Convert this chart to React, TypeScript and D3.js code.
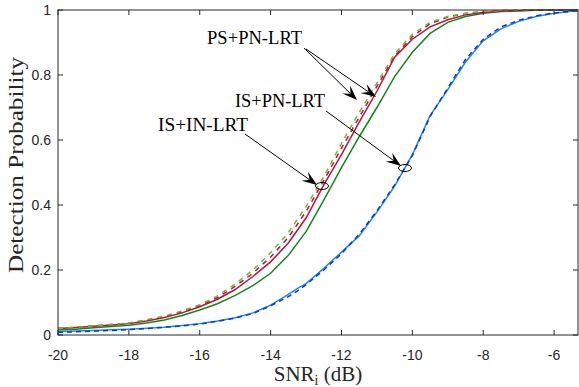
import React from "react";
import * as d3 from "d3";

const snr = [-20, -19.5, -19, -18.5, -18, -17.5, -17, -16.5, -16, -15.5, -15, -14.5, -14, -13.5, -13, -12.5, -12, -11.5, -11, -10.5, -10, -9.5, -9, -8.5, -8, -7.5, -7, -6.5, -6, -5.5, -5];
const snrBlue = [-20, -19.5, -19, -18.5, -18, -17.5, -17, -16.5, -16, -15.5, -15, -14.5, -14, -13.5, -13.25, -13, -12.5, -12, -11.5, -11, -10.5, -10, -9.5, -9, -8.5, -8, -7.5, -7, -6.5, -6, -5.5, -5];

const greenDashed = [0.020, 0.024, 0.028, 0.032, 0.037, 0.047, 0.058, 0.074, 0.093, 0.120, 0.157, 0.200, 0.253, 0.315, 0.395, 0.487, 0.590, 0.685, 0.775, 0.865, 0.925, 0.962, 0.980, 0.990, 0.995, 0.998, 0.999, 1, 1, 1, 1];
const redDashed = [0.020, 0.024, 0.028, 0.032, 0.036, 0.045, 0.056, 0.071, 0.090, 0.115, 0.150, 0.190, 0.240, 0.300, 0.380, 0.475, 0.575, 0.670, 0.765, 0.858, 0.918, 0.958, 0.978, 0.989, 0.995, 0.998, 0.999, 1, 1, 1, 1];
const redSolid = [0.020, 0.023, 0.027, 0.031, 0.035, 0.043, 0.054, 0.068, 0.087, 0.110, 0.140, 0.180, 0.225, 0.283, 0.360, 0.462, 0.555, 0.655, 0.750, 0.855, 0.910, 0.948, 0.970, 0.985, 0.992, 0.996, 0.998, 1, 1, 1, 1];
const greenSolid = [0.015, 0.018, 0.022, 0.026, 0.030, 0.037, 0.046, 0.060, 0.077, 0.096, 0.122, 0.152, 0.190, 0.245, 0.318, 0.415, 0.515, 0.610, 0.700, 0.795, 0.870, 0.928, 0.962, 0.980, 0.990, 0.995, 0.998, 0.999, 1, 1, 1];
const lightBlue = [0.010, 0.012, 0.014, 0.016, 0.018, 0.021, 0.024, 0.029, 0.035, 0.043, 0.053, 0.068, 0.092, 0.125, 0.143, 0.158, 0.205, 0.255, 0.305, 0.378, 0.458, 0.555, 0.675, 0.755, 0.840, 0.905, 0.942, 0.965, 0.980, 0.990, 0.996, 1.0];
const blueDashed = [0.008, 0.010, 0.012, 0.014, 0.017, 0.020, 0.024, 0.028, 0.034, 0.042, 0.052, 0.066, 0.090, 0.118, 0.135, 0.155, 0.200, 0.250, 0.310, 0.382, 0.462, 0.552, 0.672, 0.760, 0.848, 0.910, 0.948, 0.968, 0.982, 0.991, 0.996, 1.0];

const xTicks = [-20, -18, -16, -14, -12, -10, -8, -6];
const yTicks = [0, 0.2, 0.4, 0.6, 0.8, 1];

const series = [
  { name: "lightBlue", xs: snrBlue, values: lightBlue, color: "#1a8fe0", dash: "" },
  { name: "blueDashed", xs: snrBlue, values: blueDashed, color: "#1030e8", dash: "5,4" },
  { name: "greenSolid", xs: snr, values: greenSolid, color: "#12861a", dash: "" },
  { name: "redSolid", xs: snr, values: redSolid, color: "#b0173a", dash: "" },
  { name: "redDashed", xs: snr, values: redDashed, color: "#b0173a", dash: "5,5" },
  { name: "greenDashed", xs: snr, values: greenDashed, color: "#7fae3a", dash: "5,5" },
];

const W = 579, H = 387;
const L = 58, R = 578, T = 10, B = 335;
const axisColor = "#262626";

function Arrow({ x1, y1, x2, y2 }: { x1: number; y1: number; x2: number; y2: number }) {
  const ang = Math.atan2(y2 - y1, x2 - x1);
  const len = 15, half = 5.5, notch = 9;
  const ux = Math.cos(ang), uy = Math.sin(ang);
  const px = -uy, py = ux;
  const bx = x2 - ux * len, by = y2 - uy * len;
  const nx = x2 - ux * notch, ny = y2 - uy * notch;
  const pts = [
    [x2, y2],
    [bx + px * half, by + py * half],
    [nx, ny],
    [bx - px * half, by - py * half],
  ];
  return (
    <g>
      <line x1={x1} y1={y1} x2={nx} y2={ny} stroke="#000" strokeWidth={1} />
      <polygon points={pts.map((p) => p.join(",")).join(" ")} fill="#000" />
    </g>
  );
}

export default function App() {
  const x = d3.scaleLinear().domain([-20, -5.325]).range([L, R]);
  const y = d3.scaleLinear().domain([0, 1]).range([B, T]);
  const tickLen = 5;
  const fontSans = "'Liberation Sans', Arial, sans-serif";
  const fontSerif = "'Liberation Serif', 'Times New Roman', serif";
  return (
    <svg width={W} height={H} style={{ position: "absolute", left: 0, top: 0, background: "#fff" }}>
      <defs>
        <clipPath id="plot">
          <rect x={L} y={T - 2} width={R - L} height={B - T + 4} />
        </clipPath>
      </defs>
      <rect x={0} y={0} width={W} height={H} fill="#fff" />
      <g clipPath="url(#plot)">
        {series.map((s) => {
          const line = d3
            .line<number>()
            .x((_, i) => x(s.xs[i]))
            .y((v) => y(v));
          return (
            <path
              key={s.name}
              d={line(s.values) || ""}
              fill="none"
              stroke={s.color}
              strokeWidth={1.5}
              strokeDasharray={s.dash || undefined}
            />
          );
        })}
      </g>
      <rect x={L} y={T} width={R - L} height={B - T} fill="none" stroke={axisColor} strokeWidth={1} />
      {xTicks.map((t) => (
        <g key={"x" + t}>
          <line x1={x(t)} x2={x(t)} y1={B} y2={B - tickLen} stroke={axisColor} />
          <line x1={x(t)} x2={x(t)} y1={T} y2={T + tickLen} stroke={axisColor} />
          <text x={x(t)} y={360} textAnchor="middle" fontFamily={fontSans} fontSize={14} fill={axisColor}>
            {t}
          </text>
        </g>
      ))}
      {yTicks.map((t) => (
        <g key={"y" + t}>
          <line x1={L} x2={L + tickLen} y1={y(t)} y2={y(t)} stroke={axisColor} />
          <line x1={R} x2={R - tickLen} y1={y(t)} y2={y(t)} stroke={axisColor} />
          <text x={51} y={y(t) + 5} textAnchor="end" fontFamily={fontSans} fontSize={14} fill={axisColor}>
            {String(t)}
          </text>
        </g>
      ))}
      <text x={318} y={381} textAnchor="middle" fontFamily={fontSerif} fontSize={21} fill={axisColor}>
        SNR<tspan fontSize={14} dy={4}>i</tspan>
        <tspan dy={-4}> (dB)</tspan>
      </text>
      <text
        transform={`translate(23,165) rotate(-90)`}
        textAnchor="middle"
        fontFamily={fontSerif}
        fontSize={21}
        textLength={216}
        lengthAdjust="spacingAndGlyphs"
        fill={axisColor}
      >
        Detection Probability
      </text>
      <text x={207} y={44} fontFamily={fontSerif} fontSize={18} textLength={95} lengthAdjust="spacingAndGlyphs" fill="#000">PS+PN-LRT</text>
      <text x={235} y={107} fontFamily={fontSerif} fontSize={18} textLength={90} lengthAdjust="spacingAndGlyphs" fill="#000">IS+PN-LRT</text>
      <text x={158} y={131} fontFamily={fontSerif} fontSize={18} textLength={90} lengthAdjust="spacingAndGlyphs" fill="#000">IS+IN-LRT</text>
      <Arrow x1={304} y1={48} x2={357} y2={100} />
      <Arrow x1={306} y1={49} x2={376} y2={97} />
      <Arrow x1={245} y1={134} x2={317} y2={185} />
      <Arrow x1={326} y1={111} x2={401} y2={166} />
      <ellipse cx={322} cy={186} rx={6.5} ry={3.5} fill="none" stroke="#000" strokeWidth={1} />
      <ellipse cx={405} cy={168} rx={6.5} ry={3.5} fill="none" stroke="#000" strokeWidth={1} />
    </svg>
  );
}
